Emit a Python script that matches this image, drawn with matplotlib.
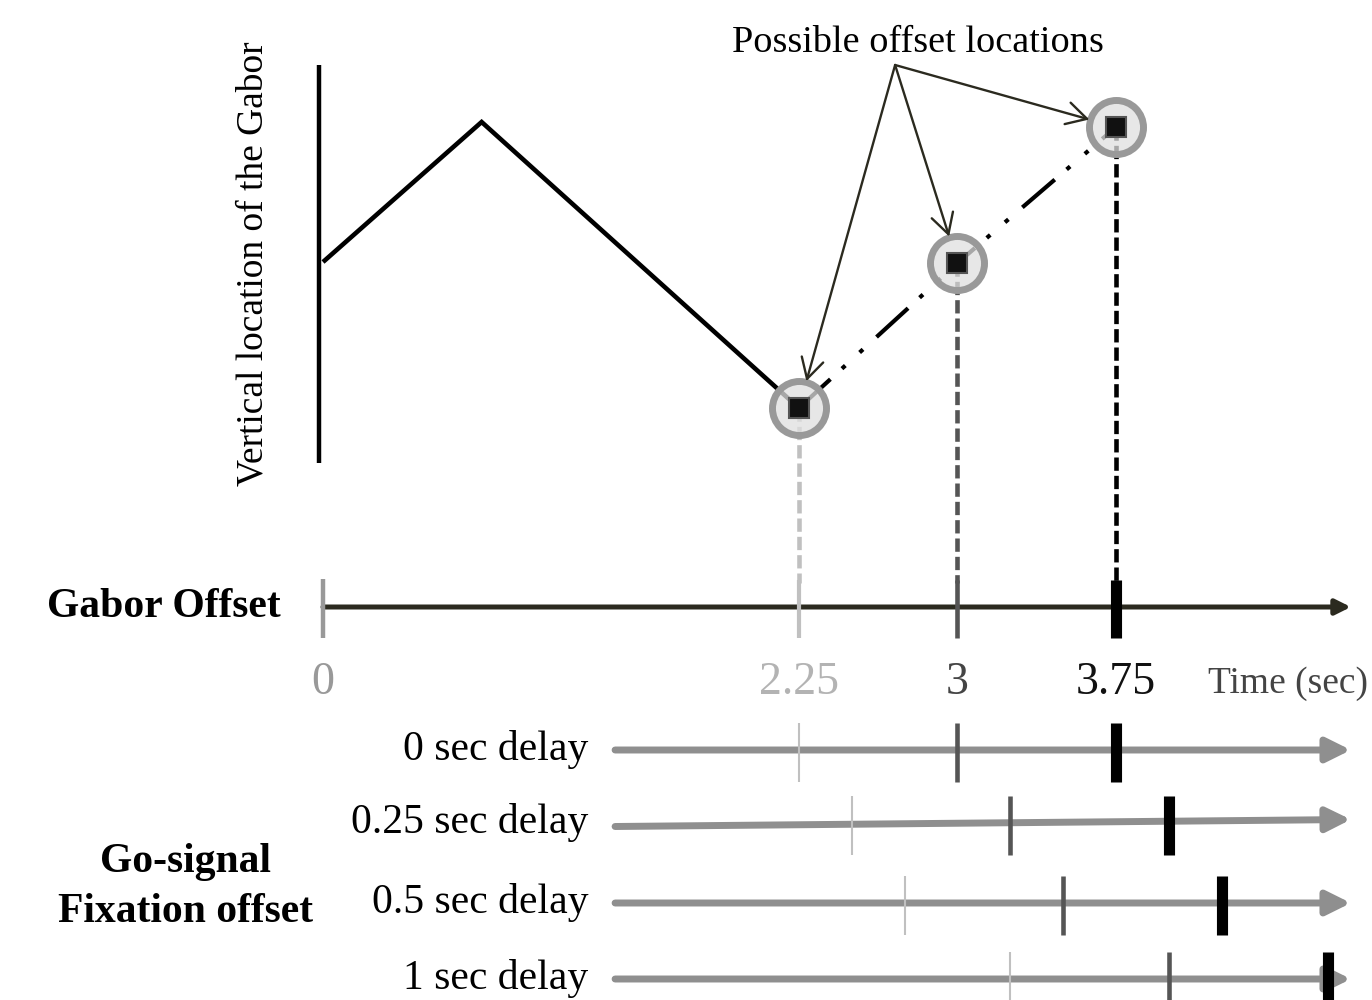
import matplotlib.pyplot as plt

plt.rcParams['font.family'] = ['Liberation Serif', 'DejaVu Serif']

# gabor path (time in sec, vertical location in px from top)
gabor_t = [0, 0.75, 2.25]
gabor_y = [262, 122, 408]

# possible offset locations
offset_t = [2.25, 3, 3.75]
offset_y = [408, 263, 127]
offset_labels = ['2.25', '3', '3.75']
offset_colors = ['#c0c0c0', '#555555', '#000000']
label_colors = ['#999999', '#b3b3b3', '#444444', '#111111']

# go-signal delays
delays = [0, 0.25, 0.5, 1]
delay_labels = ['0 sec delay', '0.25 sec delay', '0.5 sec delay', '1 sec delay']
row_y = [750, 823, 903, 979]
row_tilt = [0, 7, 0, 0]

# px per second and position of t=0
px, x0 = 211.5, 323

fig = plt.figure(figsize=(13.72, 10), dpi=100)
ax = fig.add_axes([0, 0, 1, 1])
ax.set_xlim(-x0 / px, (1372 - x0) / px)
ax.set_ylim(1000, 0)
ax.axis('off')

# top panel: vertical axis + label
ax.plot([-0.02, -0.02], [65, 463], color='k', lw=3.2, solid_capstyle='butt')
ax.text(-0.284, 264, 'Vertical location of the Gabor', rotation=90,
        rotation_mode='anchor', ha='center', va='baseline', fontsize=27)

# gabor trajectory
ax.plot(gabor_t, gabor_y, color='k', lw=3.3, solid_joinstyle='miter',
        solid_capstyle='butt', zorder=2)
pattern = (10.25, 3.75, 1.1, 4.65, 1.1, 4.4)
ax.plot(offset_t[:2], offset_y[:2], color='k', lw=3.0,
        linestyle=(0, pattern), dash_capstyle='butt', zorder=2)
ax.plot(offset_t[1:], offset_y[1:], color='k', lw=3.0,
        linestyle=(4.75, pattern), dash_capstyle='butt', zorder=2)

# drop lines to the time axis
for t, y, c in zip(offset_t, offset_y, offset_colors):
    ax.plot([t, t], [y, 583], color=c, lw=3.3, linestyle=(0, (2.9, 1.1)),
            dash_capstyle='butt', zorder=1)

# offset markers
ax.plot(offset_t, offset_y, 'o', ms=38.9, mfc=(0.88, 0.88, 0.88, 0.75),
        mec='#999999', mew=5, zorder=4)
ax.plot(offset_t, offset_y, 's', ms=14, mfc='#111111', mec='#555555',
        mew=1.5, zorder=5)

# annotation arrows
src = (2.705, 65)
ax.text(2.813, 52, 'Possible offset locations', ha='center', va='baseline',
        fontsize=27.5)
for t, y in zip(offset_t, offset_y):
    ax.annotate('', xy=(t, y), xytext=src,
                arrowprops=dict(arrowstyle='->,head_length=1.45,head_width=0.8',
                                mutation_scale=10, lw=1.7, color='#2b2a1f',
                                shrinkA=0, shrinkB=20), zorder=6)

# gabor offset time axis
axis_y = 607
ax.annotate('', xy=(4.86, axis_y), xytext=(0, axis_y),
            arrowprops=dict(arrowstyle='-|>,head_length=0.9,head_width=0.45',
                            mutation_scale=10, lw=3.6, color='#2b2a1f',
                            shrinkA=0, shrinkB=0), zorder=2)
ax.plot([0, 0], [579, 638], color='#999999', lw=3.2, solid_capstyle='butt', zorder=3)
for t, c, w in zip(offset_t, offset_colors, [3, 3.3, 8]):
    ax.plot([t, t], [580, 638], color=c, lw=w, solid_capstyle='butt', zorder=3)

for t, lab, c in zip([0] + offset_t, ['0'] + offset_labels, label_colors):
    ax.text(t, 694, lab, ha='center', va='baseline', fontsize=33, color=c)
ax.text(4.184, 693, 'Time (sec)', ha='left', va='baseline', fontsize=27,
        color='#444444')
ax.text(-0.199, 617, 'Gabor Offset', ha='right', va='baseline', fontsize=30,
        fontweight='bold')

# go-signal rows
for d, lab, y, tilt in zip(delays, delay_labels, row_y, row_tilt):
    ax.annotate('', xy=(4.86, y - tilt / 2), xytext=(1.381, y + tilt / 2),
                arrowprops=dict(arrowstyle='-|>,head_length=1.45,head_width=0.72',
                                mutation_scale=10, lw=5, color='#8f8f8f',
                                shrinkA=0, shrinkB=0), zorder=2)
    for t, c, w in zip(offset_t, offset_colors, [1.5, 3.3, 8]):
        ax.plot([t + d, t + d], [y - 27, y + 32], color=c, lw=w,
                solid_capstyle='butt', zorder=3)
    ax.text(1.253, y + 10, lab, ha='right', va='baseline', fontsize=30)

ax.text(-0.652, 872, 'Go-signal', ha='center', va='baseline', fontsize=30,
        fontweight='bold')
ax.text(-0.652, 922, 'Fixation offset', ha='center', va='baseline', fontsize=30,
        fontweight='bold')

fig.savefig('out.png', dpi=100)
